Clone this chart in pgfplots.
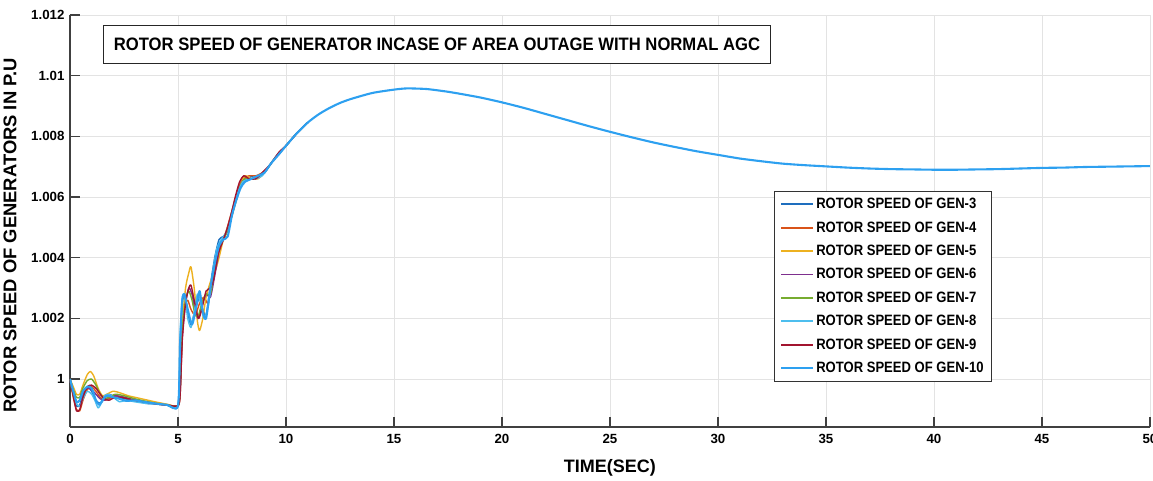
\documentclass[border=0pt]{standalone}
\usepackage{fontspec}
\setmainfont{Liberation Sans}
\newfontfamily\legfont{Liberation Sans}[FakeStretch=0.87]
\newfontfamily\titfont{Liberation Sans}[FakeStretch=0.925]
\usepackage{pgfplots}
\pgfplotsset{compat=1.18}
\definecolor{cA}{RGB}{30,110,190}
\definecolor{cB}{RGB}{217,83,25}
\definecolor{cC}{RGB}{237,177,32}
\definecolor{cD}{RGB}{126,47,142}
\definecolor{cE}{RGB}{119,172,48}
\definecolor{cF}{RGB}{77,190,238}
\definecolor{cG}{RGB}{162,20,47}
\definecolor{cH}{RGB}{45,160,240}
\begin{document}
\begin{tikzpicture}
\begin{axis}[
  scale only axis, width=1080pt, height=412pt,
  xmin=0, xmax=50, ymin=0.99842, ymax=1.012,
  xtick={0,5,...,50},
  ytick={1,1.002,1.004,1.006,1.008,1.01,1.012},
  yticklabels={1,1.002,1.004,1.006,1.008,1.01,1.012},
  grid=major, major grid style={gray!22, line width=0.8pt},
  axis x line*=bottom, axis y line*=left,
  axis line style={black!75, line width=1.2pt},
  tick style={black!75, line width=1.2pt, major tick length=10pt},
  tick align=inside,
  /pgf/number format/assume math mode=true,
  ticklabel style={font=\fontsize{13.3}{15}\selectfont\bfseries},
  xticklabel style={yshift=-4pt},
  yticklabel style={xshift=-2pt},
  xlabel={TIME(SEC)},
  ylabel={ROTOR SPEED OF GENERATORS IN P.U},
  xlabel style={font=\fontsize{18}{20}\selectfont\bfseries, at={(axis description cs:0.5,0)}, anchor=north, yshift=-29pt},
  ylabel style={font=\fontsize{18.4}{20}\selectfont\bfseries, at={(axis description cs:0,0.465)}, anchor=south, yshift=50pt},
  legend style={at={(rel axis cs:0.652,0.5728)}, anchor=north west, draw=black!80, line width=0.8pt,
    font=\fontsize{15}{17}\selectfont\legfont\bfseries, row sep=7.4pt, inner xsep=6pt, inner ysep=5pt, fill=white},
  legend cell align=left,
  legend image code/.code={\draw[#1, line width=1.8pt] (6pt,0pt) -- (38pt,0pt);},
  every axis plot/.append style={line width=1.4pt, line join=round, smooth, tension=0.4},
]
\addplot[cA] coordinates {(0,1.0) (0.15,0.9995) (0.3,0.9991) (0.45,0.99915) (0.6,0.9995) (0.8,0.99975) (1.0,0.9996) (1.2,0.9993) (1.4,0.9992) (1.6,0.99935) (1.8,0.9995) (2.1,0.9994) (2.5,0.99935) (3,0.9993) (3.5,0.9992) (4,0.99918) (4.5,0.99914) (5,0.99912) (5.1,1.0010) (5.2,1.0025) (5.3,1.0027) (5.45,1.0022) (5.6,1.0018) (5.8,1.0023) (6.0,1.0027) (6.15,1.0023) (6.3,1.0021) (6.5,1.0031) (6.7,1.0040) (6.9,1.0046) (7.1,1.0047) (7.3,1.0049) (7.5,1.0055) (7.7,1.0060) (7.9,1.0064) (8.2,1.0066) (8.5,1.0067) (8.8,1.0067) (9.1,1.0069) (9.5,1.0073) (10,1.00769) (10.5,1.0081) (11,1.00845)};
\addlegendentry{ROTOR SPEED OF GEN-3}
\addplot[cB] coordinates {(0,1.0) (0.15,0.9994) (0.3,0.9990) (0.45,0.99895) (0.6,0.9993) (0.8,0.99965) (1.0,0.99975) (1.2,0.9996) (1.4,0.9994) (1.6,0.9993) (1.8,0.99935) (2.1,0.99945) (2.5,0.9994) (3,0.9993) (3.5,0.99925) (4,0.99919) (4.5,0.99915) (5,0.99912) (5.1,0.9995) (5.2,1.0015) (5.3,1.0024) (5.45,1.0026) (5.6,1.0023) (5.8,1.0021) (6.0,1.0025) (6.2,1.0027) (6.4,1.0025) (6.6,1.0033) (6.8,1.0041) (7.0,1.0045) (7.2,1.0048) (7.4,1.0053) (7.6,1.0058) (7.8,1.0063) (8.0,1.0066) (8.3,1.0067) (8.6,1.0067) (8.9,1.0068) (9.2,1.0070) (9.6,1.0074) (10,1.00769) (10.5,1.0081) (11,1.00845)};
\addlegendentry{ROTOR SPEED OF GEN-4}
\addplot[cC] coordinates {(0,1.0) (0.15,0.99975) (0.3,0.9995) (0.45,0.9995) (0.6,0.9998) (0.8,1.00015) (0.95,1.00025) (1.1,1.0001) (1.3,0.9997) (1.5,0.99945) (1.7,0.9995) (2.0,0.9996) (2.3,0.99955) (2.7,0.99945) (3,0.9994) (3.5,0.99932) (4,0.99924) (4.5,0.99917) (5,0.99912) (5.1,0.9998) (5.2,1.0018) (5.35,1.0030) (5.5,1.0035) (5.6,1.0037) (5.75,1.0030) (5.9,1.0019) (6.0,1.0016) (6.15,1.0020) (6.3,1.0027) (6.5,1.0032) (6.7,1.0035) (6.9,1.0040) (7.1,1.0046) (7.3,1.0050) (7.5,1.0054) (7.7,1.0059) (7.9,1.0064) (8.1,1.0067) (8.4,1.0066) (8.7,1.0066) (9,1.0068) (9.4,1.0072) (10,1.00769) (10.5,1.0081) (11,1.00845)};
\addlegendentry{ROTOR SPEED OF GEN-5}
\addplot[cD] coordinates {(0,1.0) (0.15,0.9996) (0.3,0.99925) (0.45,0.9993) (0.6,0.99955) (0.8,0.9997) (1.0,0.99965) (1.2,0.9995) (1.4,0.99935) (1.6,0.9993) (1.8,0.9994) (2.1,0.99945) (2.5,0.9994) (3,0.9993) (3.5,0.99924) (4,0.99918) (4.5,0.99914) (5,0.99912) (5.1,0.9996) (5.2,1.0014) (5.35,1.0025) (5.5,1.0030) (5.65,1.0028) (5.8,1.0022) (5.95,1.0020) (6.1,1.0024) (6.3,1.0028) (6.5,1.0027) (6.7,1.0034) (6.9,1.0042) (7.1,1.0046) (7.3,1.0049) (7.5,1.0054) (7.7,1.0060) (7.9,1.0064) (8.1,1.0066) (8.4,1.0066) (8.7,1.0067) (9,1.0068) (9.4,1.0072) (10,1.00769) (10.5,1.0081) (11,1.00845)};
\addlegendentry{ROTOR SPEED OF GEN-6}
\addplot[cE] coordinates {(0,1.0) (0.15,0.99965) (0.3,0.9994) (0.45,0.9994) (0.6,0.9997) (0.8,0.99995) (1.0,1.0) (1.2,0.9998) (1.4,0.9995) (1.6,0.99935) (1.8,0.9994) (2.1,0.9995) (2.5,0.99945) (3,0.99935) (3.5,0.99927) (4,0.9992) (4.5,0.99915) (5,0.99912) (5.1,0.9997) (5.2,1.0016) (5.35,1.0026) (5.5,1.0029) (5.65,1.0026) (5.8,1.0021) (5.95,1.0021) (6.1,1.0025) (6.3,1.0028) (6.5,1.0028) (6.7,1.0036) (6.9,1.0043) (7.1,1.0046) (7.3,1.0049) (7.5,1.0054) (7.7,1.0059) (7.9,1.0064) (8.1,1.0066) (8.4,1.0066) (8.7,1.0067) (9,1.0068) (9.4,1.0072) (10,1.00769) (10.5,1.0081) (11,1.00845)};
\addlegendentry{ROTOR SPEED OF GEN-7}
\addplot[cF] coordinates {(0,1.0) (0.15,0.9995) (0.3,0.9992) (0.45,0.9991) (0.6,0.99935) (0.8,0.9996) (1.0,0.9995) (1.15,0.9993) (1.3,0.99905) (1.45,0.9992) (1.6,0.99945) (1.8,0.9995) (2.0,0.9994) (2.3,0.99925) (2.6,0.9993) (3,0.99925) (3.5,0.9992) (4,0.99917) (4.5,0.99914) (5,0.99912) (5.08,1.0012) (5.18,1.0026) (5.3,1.0028) (5.45,1.0020) (5.6,1.0017) (5.75,1.0022) (5.9,1.0028) (6.05,1.0025) (6.2,1.0020) (6.4,1.0024) (6.6,1.0035) (6.8,1.0043) (7.0,1.0046) (7.2,1.0048) (7.4,1.0052) (7.6,1.0058) (7.8,1.0062) (8.0,1.0065) (8.3,1.0066) (8.6,1.0066) (8.9,1.0067) (9.2,1.0070) (9.6,1.0074) (10,1.00769) (10.5,1.0081) (11,1.00845)};
\addlegendentry{ROTOR SPEED OF GEN-8}
\addplot[cG] coordinates {(0,1.0) (0.15,0.99945) (0.3,0.99895) (0.45,0.999) (0.6,0.9994) (0.8,0.99975) (1.0,0.9998) (1.2,0.9997) (1.4,0.9995) (1.6,0.99935) (1.8,0.9993) (2.1,0.9994) (2.5,0.99938) (3,0.9993) (3.5,0.99924) (4,0.99918) (4.5,0.99914) (5,0.99912) (5.1,0.9995) (5.2,1.0013) (5.35,1.0025) (5.5,1.0030) (5.6,1.0031) (5.75,1.0026) (5.95,1.0020) (6.1,1.0023) (6.3,1.0029) (6.5,1.0030) (6.65,1.0033) (6.85,1.0041) (7.05,1.0045) (7.25,1.0049) (7.45,1.0054) (7.65,1.0060) (7.85,1.0065) (8.05,1.0067) (8.3,1.0066) (8.6,1.0066) (8.9,1.0068) (9.3,1.0071) (9.7,1.0075) (10,1.00769) (10.5,1.0081) (11,1.00845)};
\addlegendentry{ROTOR SPEED OF GEN-9}
\addplot[cH, line width=2.1pt] coordinates {(0,1.0000) (0.15,0.9996) (0.3,0.99925) (0.45,0.9993) (0.6,0.9996) (0.8,0.99975) (1.0,0.9997) (1.2,0.9993) (1.35,0.99915) (1.5,0.9993) (1.7,0.99945) (2.0,0.9994) (2.3,0.99935) (2.6,0.99928) (3,0.9993) (3.5,0.99924) (4,0.99919) (4.5,0.99915) (5,0.99912) (5.1,1.0012) (5.2,1.0026) (5.3,1.0028) (5.45,1.0023) (5.65,1.0018) (5.85,1.0024) (6.0,1.0029) (6.15,1.0022) (6.3,1.0020) (6.5,1.0030) (6.7,1.0038) (6.9,1.0044) (7.1,1.0046) (7.3,1.0047) (7.5,1.0054) (7.7,1.0059) (7.9,1.0063) (8.1,1.0065) (8.4,1.0066) (8.7,1.0067) (9.0,1.0068) (9.3,1.0071) (9.7,1.00743) (10,1.00769) (10.5,1.0081) (11,1.00845) (11.5,1.00872) (12,1.00893) (12.5,1.0091) (13,1.00923) (14,1.00943) (15,1.00954) (15.6,1.00958) (16.5,1.00956) (17.4,1.00948) (18,1.00941) (19,1.00928) (20,1.00912) (21,1.00894) (22,1.00874) (23,1.00854) (24,1.00834) (25,1.00815) (26,1.00797) (27,1.0078) (28,1.00765) (29,1.00751) (30,1.00739) (31,1.00727) (32,1.00718) (33,1.0071) (34,1.00705) (35,1.00701) (36,1.00697) (37,1.00694) (38,1.00692) (39,1.00691) (40,1.0069) (41,1.0069) (42,1.00691) (43,1.00692) (44,1.00694) (45,1.00696) (46,1.00697) (47,1.00699) (48,1.007) (49,1.00701) (50,1.00702)};
\addlegendentry{ROTOR SPEED OF GEN-10}
\node[draw=black!85, line width=1pt, anchor=north west, minimum width=667pt, minimum height=38pt, inner sep=0pt, fill=white,
  font=\fontsize{18}{20}\selectfont\titfont\bfseries] at (rel axis cs:0.0306,0.9757) {ROTOR SPEED OF GENERATOR INCASE OF AREA OUTAGE WITH NORMAL AGC};
\end{axis}
\pgfresetboundingbox
\useasboundingbox (-70pt,-54pt) rectangle (1083pt,427pt);
\end{tikzpicture}
\end{document}
